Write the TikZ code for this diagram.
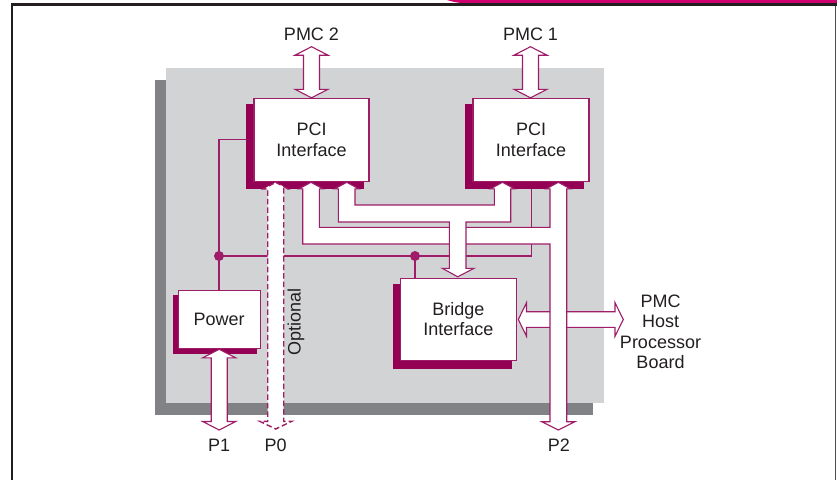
\documentclass[tikz,border=0pt]{standalone}
\usepackage{fontspec}
\setmainfont{Liberation Sans}
\usetikzlibrary{calc}
\definecolor{magline}{RGB}{158,28,104}
\definecolor{magshadow}{RGB}{148,0,84}
\definecolor{magbar}{RGB}{206,0,110}
\definecolor{boardlight}{RGB}{209,211,212}
\definecolor{boarddark}{RGB}{128,130,133}
\definecolor{txt}{RGB}{35,31,32}
\definecolor{framedark}{RGB}{35,31,32}
\pgfdeclarelayer{boardlayer}
\pgfdeclarelayer{shadowlayer}
\pgfsetlayers{boardlayer,shadowlayer,main}
\newcommand\mydblv[3]{%
  \draw[buspath] (#1,#2) -- ({#1+16.5},{#2+8.5}) -- ({#1+8},{#2+8.5}) -- ({#1+8},{#3-8.5})
    -- ({#1+16.5},{#3-8.5}) -- (#1,#3) -- ({#1-16.5},{#3-8.5}) -- ({#1-8},{#3-8.5})
    -- ({#1-8},{#2+8.5}) -- ({#1-16.5},{#2+8.5}) -- cycle;}
\begin{document}
\begin{tikzpicture}[x=1pt,y=-1pt,
  txtstyle/.style={text=txt,font=\fontsize{18}{20.5}\selectfont,inner sep=0pt},
  blockbox/.style={draw=magline,fill=white,line width=1.1pt,txtstyle,align=center},
  buspath/.style={draw=magline,fill=white,line width=1.1pt,line join=miter},
  sigline/.style={draw=magline,line width=1.1pt},
  shadowfill/.style={fill=magshadow},
  ]
\useasboundingbox (0,0) rectangle (837,480);
% board (and page background)
\begin{pgfonlayer}{boardlayer}
\fill[white] (0,0) rectangle (837,480);
\fill[boarddark] (155,80) rectangle (592.7,415);
\fill[boardlight] (166,68) rectangle (604,402.7);
\end{pgfonlayer}
% frame
\fill[magbar] (447,0) -- (837,0) -- (837,3.4) -- (470,3.4) .. controls (458,3.4) and (452,1.5) .. (447,0) -- cycle;
\draw[framedark,line width=2.2pt] (12,480) -- (12,4.5) -- (837,4.5);
\draw[black!70,line width=1pt] (835.5,5.5) -- (835.5,480);
% blocks
\node[blockbox,minimum width=115pt,minimum height=82.3pt] (pci2) at (311.5,139.9) {PCI\\Interface};
\node[blockbox,minimum width=116pt,minimum height=82.3pt] (pci1) at (531,139.9) {PCI\\Interface};
\node[blockbox,minimum width=81.7pt,minimum height=58.3pt] (power) at (219.2,319.2) {Power};
\node[blockbox,minimum width=115.3pt,minimum height=81.7pt] (bridge) at (458.4,319.2) {Bridge\\Interface};
\begin{pgfonlayer}{shadowlayer}
\fill[shadowfill] ($(pci2.north west)+(-7.5,6)$) rectangle ($(pci2.south east)+(-6,7.5)$);
\fill[shadowfill] ($(pci1.north west)+(-7.5,6)$) rectangle ($(pci1.south east)+(-6,7.5)$);
\fill[shadowfill] ($(power.north west)+(-5,5)$) rectangle ($(power.south east)+(-4,5)$);
\fill[shadowfill] ($(bridge.north west)+(-7.5,6)$) rectangle ($(bridge.south east)+(-5,8)$);
\end{pgfonlayer}
% signal lines
\coordinate (j1) at (219,256);
\coordinate (j2) at (415,256);
\coordinate (j3) at (531.7,256);
\draw[sigline] ($(pci2.west)+(-7.5,0)$) -- (219,139.9) -- (j1) -- (power.north -| j1);
\draw[sigline] (j1) -- (j3) -- (531.7,188.5);
\draw[sigline] (j2) -- (bridge.north -| j2);
\fill[magline] (j1) circle (5pt);
\fill[magline] (j2) circle (5pt);
% host arrow
\draw[buspath] (518.3,319.5) -- (526.5,302.7) -- (526.5,311.7) -- (615,311.7) -- (615,302.7)
  -- (623.3,319.5) -- (615,336.3) -- (615,327.3) -- (526.5,327.3) -- (526.5,336.3) -- cycle;
% bus 2 + P2 bus
\draw[buspath] (302.7,188.8) -- (302.7,244) -- (550,244) -- (550,421.7) -- (541.7,421.7)
  -- (558.3,430) -- (575,421.7) -- (566.7,421.7) -- (566.7,188.8) -- (570.3,188.8)
  -- (558.3,182.3) -- (546.3,188.8) -- (550,188.8) -- (550,227.3) -- (319.3,227.3)
  -- (319.3,188.8) -- (323,188.8) -- (311,182.3) -- (299,188.8) -- cycle;
% bus 1 + arrow to bridge
\draw[buspath] (338.3,188.8) -- (338.3,222) -- (449.3,222) -- (449.3,268.3) -- (442.3,268.3)
  -- (457.7,276.8) -- (474,268.3) -- (466,268.3) -- (466,222) -- (510.7,222) -- (510.7,188.8)
  -- (514.5,188.8) -- (502.5,182.3) -- (490.5,188.8) -- (494.3,188.8) -- (494.3,205)
  -- (355,205) -- (355,188.8) -- (358.7,188.8) -- (346.7,182.3) -- (334.7,188.8) -- cycle;
% optional P0 bus
\draw[buspath,line width=1.4pt,dash pattern=on 5.5pt off 3pt] (275.7,182.3) -- (287.7,188.8) -- (283.7,188.8)
  -- (283.7,421.3) -- (291.7,421.3) -- (275.7,429) -- (259.7,421.3) -- (267.7,421.3)
  -- (267.7,188.8) -- (263.7,188.8) -- cycle;
% double arrows
\mydblv{311.5}{46.7}{97.8}
\mydblv{530.5}{46.7}{97.8}
\mydblv{219.2}{349.3}{430}
% labels
\node[txtstyle,anchor=base] (lpmc2) at (311.5,40.7) {PMC 2};
\node[txtstyle,anchor=base] (lpmc1) at (530.5,40.7) {PMC 1};
\node[txtstyle,anchor=base] (lp1) at (219.2,451.7) {P1};
\node[txtstyle,anchor=base] (lp0) at (275.7,451.7) {P0};
\node[txtstyle,anchor=base] (lp2) at (558.8,451.7) {P2};
\node[txtstyle,rotate=90] (lopt) at (296,322) {Optional};
\node[txtstyle,align=center] (lhost) at (660.5,332) {PMC\\Host\\Processor\\Board};
\end{tikzpicture}
\end{document}
